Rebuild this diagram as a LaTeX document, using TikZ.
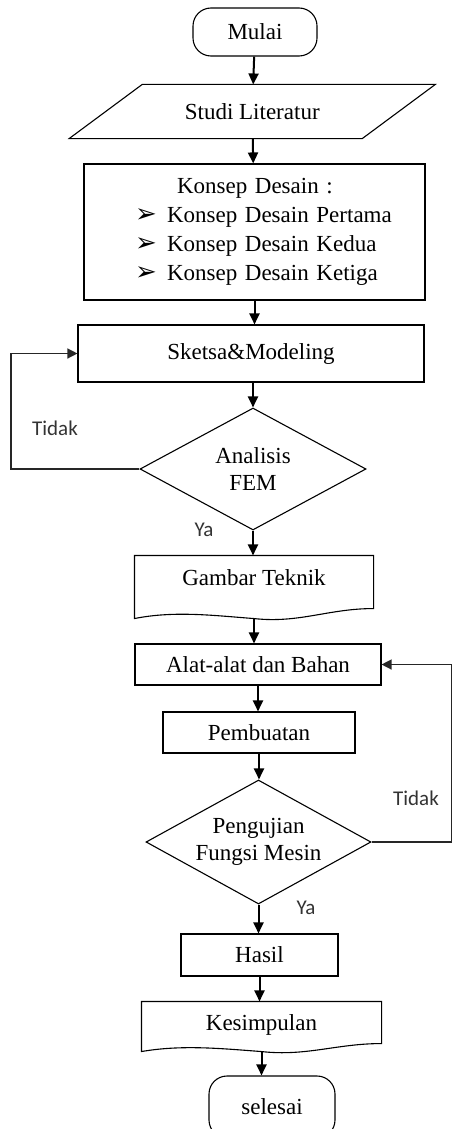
\documentclass[tikz,border=0pt]{standalone}
\usepackage{fontspec}
\setmainfont{Liberation Serif}
\newfontfamily\labelfont{Carlito}
\newfontfamily\symbolfont{DejaVu Sans}
\usetikzlibrary{shapes.geometric,arrows.meta}
\tikzset{
    base/.style={font=\fontsize{23}{27}\selectfont, inner sep=0pt, line width=1.1pt},
    terminal/.style={base, draw, rectangle, rounded corners=18pt},
    proses/.style={base, draw, rectangle},
    keputusan/.style={base, draw, diamond, aspect=1.85, align=center},
    bentuk/.style={base, rectangle},
    garis/.style={line width=1.1pt},
    alur/.style={line width=2pt, -{Triangle[length=11pt,width=10pt]}},
    balik/.style={line width=1.3pt, black!85, -{Triangle[length=10pt,width=10pt]}},
    ket/.style={font=\labelfont\fontsize{21}{21}\selectfont, text=black!80},
}
\newcommand{\butir}{\makebox[32pt][l]{\symbolfont\fontsize{26}{26}\selectfont ➢}}

\begin{document}
\begin{tikzpicture}[x=1pt, y=-1pt]
    \useasboundingbox (0,0) rectangle (452,1129);
    \clip (0,0) rectangle (452,1129);
    \node[terminal, minimum width=124pt, minimum height=48pt] (mulai) at (255,32) {Mulai};
    \node[bentuk, minimum width=292pt, minimum height=53pt] (studi) at (252.25,111.5) {Studi Literatur};
    \draw[garis] ([xshift=36.5pt]studi.north west) -- ([xshift=36.5pt]studi.north east)
        -- ([xshift=-36.5pt]studi.south east) -- ([xshift=-36.5pt]studi.south west) -- cycle;
    \node[proses, minimum width=341pt, minimum height=136pt, text width=341pt, align=left,
        font=\fontsize{23}{29}\selectfont] (konsep) at (254.5,232)
        {\hspace*{93pt}Konsep Desain :\\
         \hspace*{51pt}\butir Konsep Desain Pertama\\
         \hspace*{51pt}\butir Konsep Desain Kedua\\
         \hspace*{51pt}\butir Konsep Desain Ketiga};
    \node[proses, minimum width=346pt, minimum height=57pt] (sketsa) at (251,353.5) {Sketsa\&Modeling};
    \node[keputusan, minimum width=226pt, minimum height=122pt] (analisis) at (253,469) {Analisis\\FEM};
    \node[bentuk, minimum width=238pt, minimum height=62pt, text depth=18.5pt] (gambar) at (254,587) {Gambar Teknik};
    \draw[garis] (gambar.south west) .. controls +(40pt,8pt) and +(-40pt,3pt) .. (gambar.south)
        .. controls +(45pt,-5pt) and +(-45pt,0pt) .. ([yshift=10pt]gambar.south east)
        -- (gambar.north east) -- (gambar.north west) -- cycle;
    \node[proses, minimum width=246pt, minimum height=41pt] (alat) at (258,664.5) {Alat-alat dan Bahan};
    \node[proses, minimum width=192pt, minimum height=41pt] (buat) at (259,732.5) {Pembuatan};
    \node[keputusan, minimum width=225pt, minimum height=124pt] (uji) at (258.5,842) {Pengujian\\Fungsi Mesin};
    \node[proses, minimum width=157pt, minimum height=42pt] (hasil) at (259.5,955) {Hasil};
    \node[bentuk, minimum width=239pt, minimum height=49pt, text depth=7.5pt] (simpul) at (261.5,1026.5) {Kesimpulan};
    \draw[garis] (simpul.south west) .. controls +(40pt,7pt) and +(-40pt,3pt) .. (simpul.south)
        .. controls +(45pt,-5pt) and +(-45pt,0pt) .. ([yshift=8pt]simpul.south east)
        -- (simpul.north east) -- (simpul.north west) -- cycle;
    \node[terminal, minimum width=126pt, minimum height=62pt] (selesai) at (272,1107) {selesai};

    \draw[alur] (mulai) -- (studi);
    \draw[alur] (studi) -- (konsep);
    \draw[alur] (konsep) -- (sketsa.north -| konsep);
    \draw[alur] (sketsa.south -| analisis) -- (analisis);
    \draw[alur] (analisis) -- (analisis |- gambar.north);
    \draw[alur] (gambar) -- (gambar |- alat.north);
    \draw[alur] (alat) -- (alat |- buat.north);
    \draw[alur] (buat) -- (buat |- uji.north);
    \draw[alur] (uji) -- (uji |- hasil.north);
    \draw[alur] (hasil) -- (hasil |- simpul.north);
    \draw[alur] (simpul) -- (simpul |- selesai.north);

    \coordinate (kiri) at (11,469);
    \coordinate (kanan) at (451.5,842);
    \draw[balik] (analisis.west) -- (kiri) |- (sketsa.west);
    \draw[balik] (uji.east) -- (kanan) |- (alat.east);
    \node[ket] (tidak1) at (55,428) {Tidak};
    \node[ket] (ya1) at (204,530) {Ya};
    \node[ket] (tidak2) at (416,798) {Tidak};
    \node[ket] (ya2) at (306,908) {Ya};
\end{tikzpicture}
\end{document}
